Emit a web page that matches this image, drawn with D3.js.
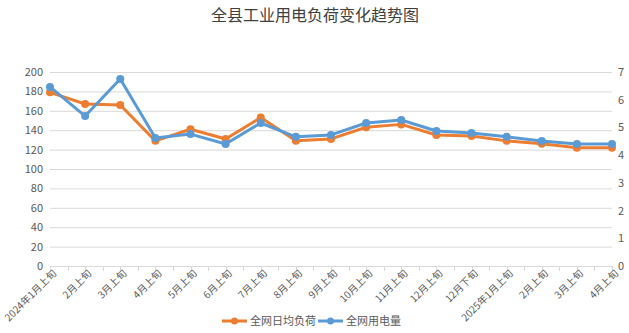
<!DOCTYPE html>
<html><head><meta charset="utf-8">
<script src="https://cdn.jsdelivr.net/npm/d3@7"></script>
<style>
body{margin:0;background:#fff;}
svg{display:block;font-family:"Microsoft YaHei","Noto Sans CJK SC",sans-serif;}
</style></head>
<body>
<script>
// Period labels along the category axis
const periods = ["2024年1月上旬","2月上旬","3月上旬","4月上旬","5月上旬","6月上旬","7月上旬","8月上旬","9月上旬","10月上旬","11月上旬","12月上旬","12月下旬","2025年1月上旬","2月上旬","3月上旬","4月上旬"];
// Average daily load (left axis)
const avgLoad = [179, 167, 166, 129, 141, 131, 153, 129, 131, 143, 146, 135, 134, 129, 126, 122, 122];
// Electricity consumption (right axis)
const consumption = [6.46, 5.41, 6.75, 4.62, 4.76, 4.40, 5.16, 4.66, 4.73, 5.16, 5.27, 4.87, 4.80, 4.66, 4.51, 4.40, 4.40];
const leftTicks = [0,20,40,60,80,100,120,140,160,180,200];
const rightTicks = [0,1,2,3,4,5,6,7];
const seriesNames = ["全网日均负荷","全网用电量"];

const W = 629, H = 333;
const m = {left:50, right:612, top:72, bottom:266};
const svg = d3.select("body").append("svg").attr("width",W).attr("height",H);

const x = d3.scalePoint().domain(d3.range(periods.length)).range([m.left, m.right]);
const yL = d3.scaleLinear().domain([0,200]).range([m.bottom, m.top]);
const yR = d3.scaleLinear().domain([0,7]).range([m.bottom, m.top]);

svg.append("text").attr("x",315).attr("y",21).attr("text-anchor","middle")
  .attr("font-size",16).attr("fill","#404040").text("全县工业用电负荷变化趋势图");

// gridlines
svg.append("g").selectAll("line").data(leftTicks.filter(d=>d>0)).join("line")
  .attr("x1",m.left).attr("x2",m.right)
  .attr("y1",d=>yL(d)+0.5).attr("y2",d=>yL(d)+0.5)
  .attr("stroke","#d9d9d9").attr("stroke-width",1);

// left axis labels
svg.append("g").selectAll("text").data(leftTicks).join("text")
  .attr("x",43).attr("y",d=>yL(d)+4).attr("text-anchor","end")
  .attr("font-size",11).attr("fill","#595959").text(d=>d);
// right axis labels
svg.append("g").selectAll("text").data(rightTicks).join("text")
  .attr("x",618).attr("y",d=>yR(d)+4).attr("text-anchor","start")
  .attr("font-size",11).attr("fill","#595959").text(d=>d);

// category axis line and ticks at every half step
svg.append("line").attr("x1",m.left).attr("x2",m.right)
  .attr("y1",m.bottom+0.5).attr("y2",m.bottom+0.5).attr("stroke","#d9d9d9");
const step = x.step();
const halfTicks = d3.range(0, (periods.length-1)*2+1).map(i => m.left + i*step/2);
svg.append("g").selectAll("line").data(halfTicks).join("line")
  .attr("x1",d=>Math.round(d)+0.5).attr("x2",d=>Math.round(d)+0.5)
  .attr("y1",m.bottom).attr("y2",m.bottom+5).attr("stroke","#d9d9d9");

// rotated category labels
svg.append("g").selectAll("text").data(periods).join("text")
  .attr("transform",(d,i)=>`translate(${x(i)+7},${m.bottom+8}) rotate(-45)`)
  .attr("text-anchor","end").attr("font-size",10).attr("fill","#595959").text(d=>d);

function drawSeries(vals, yScale, color){
  const line = d3.line().x((d,i)=>x(i)).y(d=>yScale(d));
  svg.append("path").datum(vals).attr("d",line).attr("fill","none")
    .attr("stroke",color).attr("stroke-width",3).attr("stroke-linejoin","round");
  svg.append("g").selectAll("circle").data(vals).join("circle")
    .attr("cx",(d,i)=>x(i)).attr("cy",d=>yScale(d)).attr("r",4).attr("fill",color);
}
drawSeries(avgLoad, yL, "#ed7d31");
drawSeries(consumption, yR, "#5b9bd5");

// legend
const legend = [{name:seriesNames[0],color:"#ed7d31",x:222},{name:seriesNames[1],color:"#5b9bd5",x:318}];
const lg = svg.append("g");
legend.forEach(l=>{
  lg.append("line").attr("x1",l.x).attr("x2",l.x+25).attr("y1",321).attr("y2",321)
    .attr("stroke",l.color).attr("stroke-width",3);
  lg.append("circle").attr("cx",l.x+12.5).attr("cy",321).attr("r",3.5).attr("fill",l.color);
  lg.append("text").attr("x",l.x+28).attr("y",325).attr("font-size",11).attr("fill","#595959").text(l.name);
});
</script>
</body></html>
